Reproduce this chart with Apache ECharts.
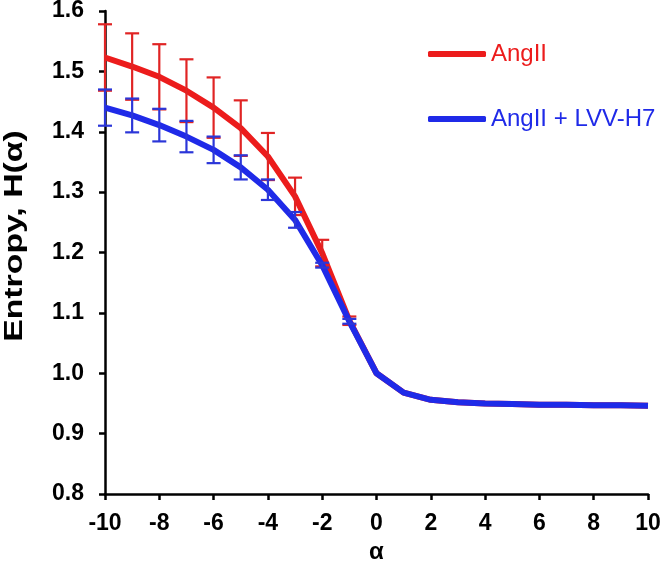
<!DOCTYPE html>
<html>
<head>
<meta charset="utf-8">
<script src="https://cdn.jsdelivr.net/npm/echarts@6/dist/echarts.min.js"></script>
<style>
  html, body { margin: 0; padding: 0; background: #fff; }
  #chart { width: 665px; height: 564px; }
</style>
</head>
<body>
<div id="chart"></div>
<script>
  const alpha = [-10, -9, -8, -7, -6, -5, -4, -3, -2, -1, 0, 1, 2, 3, 4, 5, 6, 7, 8, 9, 10];
  const angII = [1.523, 1.508, 1.491, 1.468, 1.440, 1.406, 1.359, 1.293, 1.199, 1.087, 1.000,
    0.968, 0.956, 0.952, 0.950, 0.949, 0.948, 0.948, 0.947, 0.947, 0.946];
  const angIIErr = [0.055, 0.055, 0.054, 0.052, 0.050, 0.046, 0.039, 0.031, 0.022, 0.007, 0,
    0, 0, 0, 0, 0, 0, 0, 0, 0, 0];
  const angLvv = [1.440, 1.427, 1.411, 1.392, 1.370, 1.341, 1.304, 1.254, 1.179, 1.086, 1.000,
    0.968, 0.956, 0.952, 0.950, 0.949, 0.948, 0.948, 0.947, 0.947, 0.946];
  const angLvvErr = [0.030, 0.028, 0.027, 0.026, 0.022, 0.020, 0.017, 0.013, 0.004, 0.004, 0,
    0, 0, 0, 0, 0, 0, 0, 0, 0, 0];
  const seriesNames = ["AngII", "AngII + LVV-H7"];

  const RED = "#ec1c1c";
  const BLUE = "#1f2ae8";
  const FONT = "Liberation Sans, Arial, sans-serif";

  const chart = echarts.init(document.getElementById("chart"));

  // error bars: vertical line + two caps
  const errBars = (vals, errs, color) => ({
    type: "custom",
    silent: true,
    data: alpha.map((a, i) => [a, vals[i], errs[i]]),
    renderItem: (params, api) => {
      const x = api.value(0), y = api.value(1), e = api.value(2);
      if (!e) return null;
      const top = api.coord([x, y + e]);
      const bot = api.coord([x, y - e]);
      const hw = 7;
      const style = { stroke: color, lineWidth: 2.2 };
      return {
        type: "group",
        children: [
          { type: "line", shape: { x1: top[0], y1: top[1], x2: bot[0], y2: bot[1] }, style },
          { type: "line", shape: { x1: top[0] - hw, y1: top[1], x2: top[0] + hw, y2: top[1] }, style },
          { type: "line", shape: { x1: bot[0] - hw, y1: bot[1], x2: bot[0] + hw, y2: bot[1] }, style },
        ],
      };
    },
  });

  const axisLine = { show: true, onZero: false, lineStyle: { color: "#000", width: 2.5 } };
  const axisTick = { show: true, inside: false, length: 6, lineStyle: { color: "#000", width: 2.5 } };

  const option = {
    animation: false,
    backgroundColor: "#fff",
    grid: { left: 105, right: 17, top: 11, bottom: 70, outerBoundsMode: "none" },
    legend: {
      orient: "vertical",
      left: 423,
      top: 37,
      itemWidth: 58,
      itemHeight: 6,
      itemGap: 41,
      icon: "roundRect",
      textStyle: { fontFamily: FONT, fontSize: 24 },
      data: [
        { name: seriesNames[0], textStyle: { color: RED } },
        { name: seriesNames[1], textStyle: { color: BLUE } },
      ],
    },
    xAxis: {
      type: "value",
      min: -10,
      max: 10,
      interval: 2,
      name: "α",
      nameLocation: "middle",
      nameGap: 41,
      nameTextStyle: { color: "#000", fontFamily: FONT, fontSize: 24, fontWeight: "bold" },
      axisLine,
      axisTick,
      splitLine: { show: false },
      axisLabel: { color: "#000", fontFamily: FONT, fontSize: 23, fontWeight: "bold", margin: 18 },
    },
    yAxis: {
      type: "value",
      min: 0.8,
      max: 1.6,
      interval: 0.1,
      axisLine,
      axisTick,
      splitLine: { show: false },
      axisLabel: {
        color: "#000", fontFamily: FONT, fontSize: 23, fontWeight: "bold", margin: 21,
        formatter: v => v.toFixed(1),
      },
    },
    graphic: [
      {
        type: "text",
        x: 15,
        y: 236,
        rotation: Math.PI / 2,
        scaleX: 1.3,
        style: {
          text: "Entropy, H(α)",
          fontFamily: FONT,
          fontSize: 26,
          fontWeight: "bold",
          fill: "#000",
          align: "center",
          verticalAlign: "middle",
        },
      },
    ],
    series: [
      {
        name: seriesNames[0],
        type: "line",
        z: 2,
        symbol: "none",
        lineStyle: { width: 6, color: RED },
        itemStyle: { color: RED },
        data: alpha.map((a, i) => [a, angII[i]]),
      },
      { ...errBars(angII, angIIErr, "#e02424"), z: 3 },
      {
        name: seriesNames[1],
        type: "line",
        z: 4,
        symbol: "none",
        lineStyle: { width: 6, color: BLUE },
        itemStyle: { color: BLUE },
        data: alpha.map((a, i) => [a, angLvv[i]]),
      },
      { ...errBars(angLvv, angLvvErr, "#2b36d8"), z: 5 },
    ],
  };

  chart.setOption(option);
</script>
</body>
</html>
